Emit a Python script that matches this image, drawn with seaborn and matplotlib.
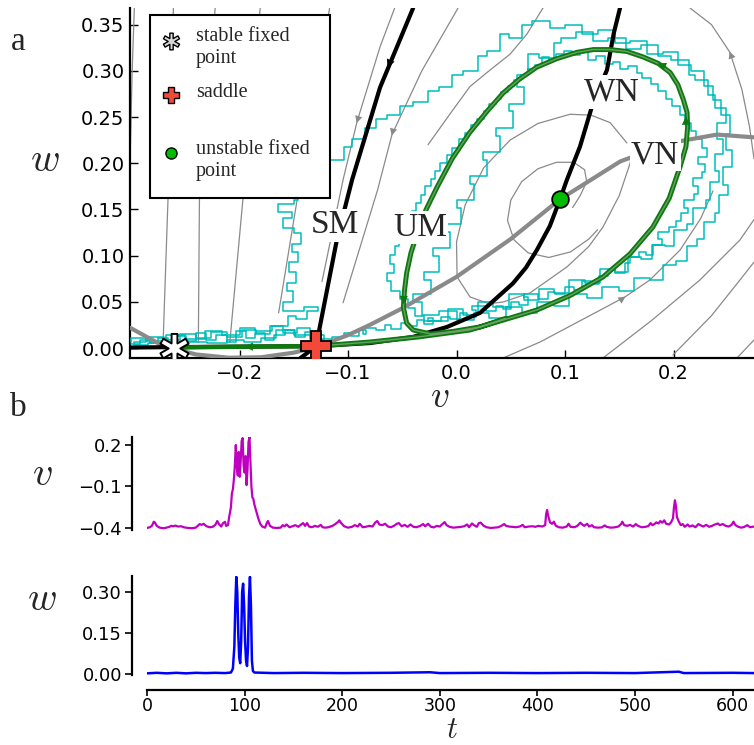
import numpy as np
import pandas as pd
import matplotlib
matplotlib.use("Agg")
import matplotlib.pyplot as plt
import seaborn as sns
from matplotlib.patches import Rectangle
from matplotlib.path import Path

# ---------------- data ----------------
# fixed points
stable_fp = (-0.260, 0.000)
saddle_pt = (-0.1295, 0.002)
unstable_fp = (0.0954, 0.161)

# v-nullcline (VN)
vn_v = [-0.301, -0.27, -0.24, -0.21, -0.18, -0.15, -0.1295, -0.10, -0.08, -0.05, 0.0, 0.05, 0.0954, 0.151, 0.197, 0.24, 0.2742]
vn_w = [0.022, 0.002, -0.007, -0.0105, -0.010, -0.005, 0.001, 0.014, 0.025, 0.043, 0.077, 0.118, 0.161, 0.202, 0.222, 0.231, 0.228]

# w-nullcline (WN)
wn_v = [-0.301, -0.26, -0.20, -0.1295, -0.0797, -0.040, -0.0088, 0.0216, 0.052, 0.064, 0.074, 0.086, 0.0954, 0.1017, 0.1138, 0.126, 0.1387, 0.145, 0.1507]
wn_w = [0.0005, 0.001, 0.0015, 0.002, 0.0054, 0.012, 0.0228, 0.038, 0.070, 0.087, 0.106, 0.132, 0.161, 0.182, 0.218, 0.266, 0.301, 0.341, 0.368]

# stable manifold (SM)
sm_v = [-0.144, -0.1295, -0.110, -0.0963, -0.0705, -0.040]
sm_w = [-0.011, 0.002, 0.119, 0.182, 0.282, 0.368]

# unstable manifold (UM): branch to the stable point and the large loop
um_left_v = [-0.1295, -0.19, -0.23, -0.260]
um_left_w = [0.002, 0.0015, 0.001, 0.0005]
um_loop_v = [-0.1295, -0.0797, -0.035, 0.0124, 0.0742, 0.105, 0.135, 0.160, 0.181, 0.196, 0.206, 0.2115, 0.213,
             0.2125, 0.209, 0.204, 0.197, 0.186, 0.172, 0.157, 0.141, 0.126, 0.111, 0.092, 0.074, 0.058, 0.043,
             0.028, 0.012, -0.004, -0.018, -0.028, -0.036, -0.042, -0.046, -0.048, -0.049, -0.046, -0.040,
             -0.024, -0.003, 0.0216, 0.045]
um_loop_w = [0.002, 0.0065, 0.012, 0.0195, 0.0412, 0.057, 0.0769, 0.102, 0.131, 0.162, 0.196, 0.218, 0.239,
             0.255, 0.269, 0.285, 0.298, 0.308, 0.315, 0.321, 0.323, 0.323, 0.320, 0.313, 0.304, 0.291, 0.276,
             0.256, 0.233, 0.205, 0.174, 0.150, 0.125, 0.103, 0.081, 0.062, 0.044, 0.027, 0.0195,
             0.0152, 0.018, 0.0228, 0.032]

# grey flow lines
flow_a_v = [-0.297, -0.299, -0.301]
flow_a_w = [0.368, 0.30, 0.20]
flow_b_v = [-0.261, -0.266, -0.2705, -0.266]
flow_b_w = [0.368, 0.160, 0.006, 0.002]
flow_c_v = [-0.2225, -0.237, -0.238]
flow_c_w = [0.368, 0.160, 0.006]
flow_d_v = [-0.181, -0.197, -0.209]
flow_d_w = [0.368, 0.160, 0.006]
flow_e_v = [-0.117, -0.147, -0.164]
flow_e_w = [0.368, 0.160, 0.038]
flow_f_v = [-0.0567, -0.0705, -0.0917, -0.1046, -0.124]
flow_f_w = [0.369, 0.326, 0.245, 0.182, 0.072]
flow_g_v = [0.0014, -0.032, -0.0595, -0.0728, -0.1046]
flow_g_w = [0.368, 0.300, 0.231, 0.171, 0.049]
flow_h_v = [-0.0263, -0.005, 0.0124, 0.030, 0.0493, 0.065, 0.0797]
flow_h_w = [0.220, 0.255, 0.283, 0.300, 0.318, 0.340, 0.368]
flow_i_v = [0.107, 0.114, 0.120, 0.118, 0.108, 0.092, 0.075, 0.060, 0.050, 0.047, 0.053, 0.066, 0.085, 0.105, 0.122, 0.130]
flow_i_w = [0.152, 0.165, 0.180, 0.193, 0.201, 0.201, 0.194, 0.180, 0.160, 0.138, 0.117, 0.103, 0.098, 0.104, 0.118, 0.128]
flow_j_v = [0.157, 0.1415, 0.124, 0.1046, 0.075, 0.0493, 0.025, 0.008, 0.000, 0.0005, 0.0124, 0.030, 0.0429,
            0.0677, 0.1018, 0.122, 0.135, 0.150, 0.160, 0.163]
flow_j_w = [0.222, 0.244, 0.252, 0.253, 0.243, 0.225, 0.195, 0.155, 0.115, 0.077, 0.0553, 0.048, 0.0498,
            0.0596, 0.0878, 0.110, 0.131, 0.165, 0.200, 0.225]
flow_k_v = [0.0429, 0.077, 0.1553, 0.1783, 0.2060, 0.2250, 0.2364]
flow_k_w = [-0.0108, 0.0065, 0.0553, 0.0737, 0.106, 0.140, 0.170]
flow_l_v = [0.2152, 0.235, 0.252, 0.2630, 0.2700, 0.2742]
flow_l_w = [0.368, 0.350, 0.320, 0.280, 0.240, 0.205]
flow_m_v = [0.135, 0.180, 0.2244, 0.2613, 0.2742]
flow_m_w = [-0.0108, 0.030, 0.0737, 0.117, 0.139]
flow_n_v = [0.1995, 0.235, 0.2613, 0.2742]
flow_n_w = [-0.0076, 0.035, 0.0737, 0.093]
flow_o_v = [0.2585, 0.2742]
flow_o_w = [-0.0108, 0.0087]

# arrow heads: position and direction along the curve
grey_arrow_v = [-0.0917, -0.0595, 0.1553, 0.252]
grey_arrow_w = [0.245, 0.231, 0.0553, 0.320]
grey_arrow_dv = [-0.0212, -0.013, 0.0233, -0.0157]
grey_arrow_dw = [-0.081, -0.060, 0.0184, 0.050]
green_arrow_v = [-0.195, -0.049, 0.2115, 0.186]
green_arrow_w = [0.0015, 0.048, 0.250, 0.308]
green_arrow_dv = [-0.02, -0.001, 0.0, -0.025]
green_arrow_dw = [0.0, -0.03, 0.03, 0.014]
sm_arrow = (-0.063, 0.305, 0.0305, 0.086)

# noisy trajectory (cyan)
cyan_band_v = [-0.300, -0.292, -0.283, -0.275, -0.266, -0.258, -0.249, -0.240, -0.231, -0.222, -0.212, -0.203,
               -0.194, -0.186, -0.177, -0.168, -0.158, -0.149, -0.140, -0.131, -0.122, -0.135, -0.147, -0.160,
               -0.172, -0.185, -0.198, -0.212, -0.226, -0.240, -0.255, -0.270, -0.286, -0.297, -0.284, -0.266,
               -0.248, -0.230, -0.212, -0.196, -0.180, -0.166, -0.150, -0.135, -0.115]
cyan_band_w = [0.004, 0.009, 0.005, 0.011, 0.006, 0.013, 0.008, 0.016, 0.009, 0.014, 0.007, 0.018,
               0.011, 0.016, 0.009, 0.014, 0.020, 0.012, 0.017, 0.009, 0.014, 0.022, 0.016, 0.024,
               0.015, 0.019, 0.012, 0.017, 0.011, 0.015, 0.009, 0.012, 0.007, 0.003, 0.005, 0.004,
               0.007, 0.005, 0.009, 0.006, 0.011, 0.020, 0.014, 0.010, 0.012]
cyan_loop1_v = [-0.104, -0.097, -0.090, -0.083, -0.086, -0.074, -0.066, -0.060, -0.051, -0.045,
                -0.036, -0.030, -0.022, -0.026, -0.014, -0.006, 0.003, 0.010, 0.018, 0.014,
                0.027, 0.036, 0.043, 0.050, 0.058, 0.066, 0.062, 0.075, 0.084, 0.091,
                0.100, 0.108, 0.116, 0.124, 0.131, 0.140, 0.146, 0.155, 0.160, 0.168,
                0.175, 0.181, 0.189, 0.186, 0.196, 0.202, 0.207, 0.213, 0.210, 0.219,
                0.223, 0.218, 0.226, 0.229, 0.223, 0.231, 0.226, 0.221, 0.216, 0.211,
                0.206, 0.199, 0.193, 0.186, 0.179, 0.171, 0.166, 0.158, 0.151, 0.144,
                0.137, 0.129, 0.121, 0.114, 0.106, 0.099, 0.092, 0.085, 0.079, 0.072,
                0.066, 0.059, 0.053, 0.047, 0.041, 0.036, 0.030, 0.025, 0.019, 0.013,
                0.008, 0.002, -0.004, -0.009, -0.015, -0.020, -0.024, -0.029, -0.033, -0.037,
                -0.041, -0.045, -0.049, -0.053, -0.057, -0.061, -0.058, -0.064, -0.060, -0.052,
                -0.045, -0.038, -0.030]
cyan_loop1_w = [0.016, 0.013, 0.019, 0.015, 0.022, 0.020, 0.025, 0.021, 0.027, 0.024,
                0.030, 0.026, 0.033, 0.029, 0.034, 0.031, 0.038, 0.034, 0.041, 0.046,
                0.040, 0.045, 0.042, 0.050, 0.047, 0.055, 0.059, 0.053, 0.061, 0.058,
                0.066, 0.063, 0.072, 0.069, 0.078, 0.084, 0.081, 0.092, 0.098, 0.104,
                0.101, 0.112, 0.118, 0.126, 0.131, 0.138, 0.146, 0.152, 0.160, 0.167,
                0.175, 0.184, 0.190, 0.199, 0.207, 0.216, 0.226, 0.235, 0.244, 0.252,
                0.262, 0.270, 0.278, 0.286, 0.292, 0.298, 0.305, 0.302, 0.310, 0.307,
                0.316, 0.312, 0.320, 0.317, 0.322, 0.318, 0.312, 0.315, 0.306, 0.302,
                0.295, 0.290, 0.284, 0.277, 0.270, 0.264, 0.256, 0.248, 0.241, 0.233,
                0.226, 0.217, 0.209, 0.200, 0.192, 0.183, 0.175, 0.166, 0.157, 0.148,
                0.139, 0.129, 0.120, 0.110, 0.101, 0.091, 0.081, 0.072, 0.062, 0.053,
                0.043, 0.035, 0.029]
cyan_loop2_v = [-0.008, 0.006, 0.020, 0.034, 0.048, 0.062, 0.076, 0.090, 0.104, 0.118, 0.132, 0.146, 0.158,
                0.170, 0.180, 0.192, 0.200, 0.212, 0.218, 0.230, 0.234, 0.242, 0.238, 0.246, 0.240, 0.248,
                0.238, 0.232, 0.220, 0.214, 0.198, 0.186, 0.170, 0.156, 0.140, 0.126, 0.110, 0.096, 0.090,
                0.076, 0.066, 0.056, 0.062, 0.048, 0.052, 0.036, 0.040, 0.024, 0.028, 0.012, 0.016, 0.000,
                0.004, -0.012, -0.006, -0.022, -0.016, -0.030, -0.024, -0.040, -0.032, -0.016]
cyan_loop2_w = [0.042, 0.036, 0.050, 0.044, 0.058, 0.052, 0.064, 0.060, 0.074, 0.070, 0.086, 0.082, 0.098,
                0.096, 0.112, 0.110, 0.128, 0.134, 0.152, 0.160, 0.180, 0.192, 0.210, 0.226, 0.244, 0.260,
                0.274, 0.290, 0.296, 0.312, 0.316, 0.328, 0.324, 0.336, 0.332, 0.342, 0.336, 0.330, 0.314,
                0.318, 0.296, 0.282, 0.264, 0.256, 0.238, 0.230, 0.212, 0.204, 0.186, 0.178, 0.160, 0.152,
                0.134, 0.126, 0.108, 0.100, 0.082, 0.074, 0.058, 0.050, 0.036, 0.040]
cyan_loop3_v = [0.000, 0.016, 0.030, 0.046, 0.060, 0.074, 0.090, 0.104, 0.120, 0.134, 0.150, 0.164, 0.178,
                0.190, 0.202, 0.212, 0.222, 0.228, 0.238, 0.242, 0.250, 0.246, 0.254, 0.248, 0.252, 0.244,
                0.236, 0.228, 0.216, 0.204, 0.190, 0.176, 0.160, 0.146, 0.130, 0.116, 0.100, 0.086, 0.070,
                0.060, 0.048, 0.040, 0.028, 0.020, 0.006, -0.004, -0.016, -0.026, -0.040, -0.052, -0.064,
                -0.074, -0.084, -0.096, -0.104, -0.118, -0.128, -0.140, -0.146]
cyan_loop3_w = [0.030, 0.038, 0.032, 0.044, 0.038, 0.050, 0.046, 0.058, 0.054, 0.066, 0.062, 0.076, 0.074,
                0.090, 0.094, 0.110, 0.118, 0.136, 0.146, 0.166, 0.176, 0.196, 0.214, 0.232, 0.252, 0.268,
                0.284, 0.300, 0.306, 0.320, 0.318, 0.332, 0.330, 0.344, 0.340, 0.350, 0.346, 0.354, 0.350,
                0.336, 0.340, 0.322, 0.316, 0.300, 0.296, 0.282, 0.278, 0.266, 0.262, 0.252, 0.248,
                0.238, 0.226, 0.218, 0.204, 0.196, 0.184, 0.174, 0.160]
cyan_column_v = [-0.150, -0.165, -0.152, -0.160, -0.150, -0.143, -0.152, -0.146, -0.154, -0.148, -0.156,
                 -0.151, -0.160, -0.141, -0.128, -0.138, -0.148, -0.155, -0.170, -0.186, -0.200, -0.216,
                 -0.232, -0.250, -0.268, -0.285, -0.300]
cyan_column_w = [0.156, 0.147, 0.141, 0.130, 0.124, 0.113, 0.104, 0.093, 0.082, 0.070, 0.062,
                 0.050, 0.040, 0.044, 0.040, 0.031, 0.035, 0.024, 0.018, 0.022, 0.014, 0.018,
                 0.010, 0.014, 0.008, 0.011, 0.006]

# time series
t_v = [0, 3, 5, 7, 8, 10, 13, 17, 20, 23, 25, 27, 29, 32, 35, 38, 42, 46, 50, 52, 54, 56, 58, 61, 64, 67, 70,
       72, 74, 76, 78, 80, 81, 83, 84, 86, 87, 88, 89, 90, 91, 92, 93, 94, 95, 96, 97, 98, 99, 100, 101,
       102, 103, 104, 105, 106, 107, 108, 109, 110, 112, 114, 116, 118, 121, 123, 124, 126, 129, 133, 137,
       139, 141, 143, 146, 149, 152, 155, 158, 160, 162, 164, 166, 169, 172, 175, 178, 180, 183, 186, 190,
       193, 196, 197, 199, 202, 206, 210, 213, 216, 218, 221, 224, 228, 231, 234, 236, 238, 241, 244, 247,
       250, 253, 256, 258, 261, 264, 267, 270, 273, 276, 280, 283, 285, 288, 291, 294, 297, 300, 303, 305,
       307, 310, 314, 318, 322, 325, 328, 330, 333, 335, 338, 340, 342, 345, 348, 352, 356, 360, 363, 366,
       368, 371, 374, 378, 382, 385, 387, 391, 395, 398, 401, 405, 408, 409, 410, 411, 413, 415, 417, 419,
       422, 426, 430, 432, 434, 438, 441, 444, 446, 448, 451, 453, 456, 458, 462, 466, 469, 471, 475, 479,
       483, 486, 487, 489, 492, 495, 498, 501, 503, 507, 511, 514, 516, 518, 520, 522, 524, 526, 528, 530,
       532, 535, 537, 539, 540, 541, 542, 543, 545, 547, 549, 551, 554, 556, 559, 562, 565, 567, 570, 573,
       576, 579, 582, 585, 587, 590, 593, 596, 599, 601, 603, 606, 609, 612, 615, 618, 622]
v_vals = [-0.400, -0.395, -0.385, -0.355, -0.360, -0.385, -0.398, -0.402, -0.398, -0.392, -0.385, -0.388,
          -0.383, -0.390, -0.388, -0.396, -0.400, -0.402, -0.398, -0.385, -0.372, -0.378, -0.370, -0.388,
          -0.395, -0.393, -0.378, -0.350, -0.375, -0.390, -0.365, -0.356, -0.385, -0.380, -0.330, -0.250,
          -0.150, -0.120, -0.050, 0.050, 0.200, 0.050, -0.020, 0.150, -0.030, 0.080, 0.230, 0.250, 0.050,
          0.000, 0.120, -0.090, 0.020, 0.220, 0.260, 0.080, -0.100, -0.180, -0.190, -0.230, -0.280, -0.330,
          -0.370, -0.390, -0.398, -0.360, -0.350, -0.385, -0.398, -0.400, -0.398, -0.380, -0.388, -0.375,
          -0.395, -0.388, -0.380, -0.392, -0.375, -0.365, -0.385, -0.365, -0.390, -0.395, -0.385, -0.392,
          -0.378, -0.395, -0.398, -0.395, -0.385, -0.372, -0.355, -0.345, -0.365, -0.388, -0.398, -0.392,
          -0.380, -0.390, -0.370, -0.395, -0.392, -0.385, -0.390, -0.360, -0.350, -0.375, -0.380, -0.370,
          -0.390, -0.395, -0.385, -0.370, -0.365, -0.388, -0.378, -0.392, -0.375, -0.392, -0.395, -0.385,
          -0.372, -0.388, -0.370, -0.392, -0.396, -0.385, -0.390, -0.370, -0.358, -0.380, -0.392, -0.398,
          -0.395, -0.392, -0.388, -0.375, -0.395, -0.368, -0.380, -0.392, -0.365, -0.362, -0.385, -0.395,
          -0.400, -0.398, -0.395, -0.385, -0.372, -0.385, -0.390, -0.392, -0.395, -0.390, -0.378, -0.395,
          -0.390, -0.388, -0.392, -0.385, -0.390, -0.380, -0.300, -0.270, -0.310, -0.360, -0.370, -0.355,
          -0.385, -0.395, -0.398, -0.390, -0.370, -0.392, -0.395, -0.385, -0.362, -0.375, -0.385, -0.370,
          -0.390, -0.380, -0.395, -0.398, -0.396, -0.382, -0.392, -0.398, -0.396, -0.390, -0.370, -0.355,
          -0.380, -0.385, -0.378, -0.390, -0.372, -0.385, -0.395, -0.392, -0.385, -0.365, -0.380, -0.372,
          -0.360, -0.368, -0.350, -0.362, -0.345, -0.370, -0.375, -0.360, -0.330, -0.250, -0.200, -0.240,
          -0.320, -0.355, -0.380, -0.372, -0.392, -0.375, -0.390, -0.382, -0.395, -0.372, -0.380, -0.390,
          -0.378, -0.392, -0.385, -0.375, -0.368, -0.380, -0.372, -0.385, -0.390, -0.378, -0.355, -0.380,
          -0.392, -0.398, -0.393, -0.380, -0.395, -0.390]
t_w = [0, 10, 20, 30, 40, 50, 60, 70, 80, 86, 88, 89.5, 90.5, 91.5, 92.5, 93.5, 94.5, 95.5, 96.5, 97.5,
       98.5, 99.5, 100.5, 101.5, 102.5, 103.5, 104.5, 105.5, 106.5, 107.5, 108.5, 110, 130, 160, 200, 250,
       290, 300, 350, 400, 450, 500, 545, 550, 600, 622]
w_vals = [0.003, 0.005, 0.003, 0.005, 0.003, 0.005, 0.004, 0.005, 0.004, 0.006, 0.020, 0.100, 0.250, 0.355,
          0.300, 0.150, 0.060, 0.040, 0.120, 0.300, 0.330, 0.250, 0.120, 0.050, 0.030, 0.100, 0.280, 0.355,
          0.250, 0.050, 0.012, 0.006, 0.004, 0.005, 0.004, 0.005, 0.007, 0.004, 0.005, 0.004, 0.005, 0.004,
          0.009, 0.004, 0.005, 0.004]

# ---------------- figure ----------------
sns.set_theme(style="ticks")
plt.rcParams["font.family"] = ["DejaVu Sans"]
plt.rcParams["mathtext.fontset"] = "cm"
SERIF = ["Liberation Serif", "DejaVu Serif"]

fig = plt.figure(figsize=(7.54, 7.45), dpi=100)
ax = fig.add_axes([130 / 754, 387 / 745, 624 / 754, 350 / 745])
axv = fig.add_axes([147 / 754, 215 / 745, 607 / 754, 93 / 745])
axw = fig.add_axes([147 / 754, 70 / 745, 607 / 754, 99 / 745])

GREY = "#8a8a8a"


def curve(a, xs, ys, **kw):
    sns.lineplot(x=xs, y=ys, ax=a, sort=False, estimator=None, legend=False, **kw)


def head(a, x, y, dx, dy, color, size, z):
    a.annotate("", xy=(x + dx * 0.02, y + dy * 0.02), xytext=(x, y),
               arrowprops=dict(arrowstyle="-|>", color=color, lw=0.0, mutation_scale=size,
                               shrinkA=0, shrinkB=0), zorder=z)


def asterisk_path(h=0.2):
    verts = []
    for k in range(6):
        th = np.deg2rad(90 + 60 * k)
        d = np.array([np.cos(th), np.sin(th)])
        p = np.array([-np.sin(th), np.cos(th)])
        verts.append(d - p * h)
        verts.append(d + p * h)
        ti = th + np.deg2rad(30)
        verts.append(2 * h * np.array([np.cos(ti), np.sin(ti)]))
    verts.append(verts[0])
    codes = [Path.MOVETO] + [Path.LINETO] * (len(verts) - 2) + [Path.CLOSEPOLY]
    return Path(verts, codes)


AST = asterisk_path(0.2)

# grey flow lines
flows = [(flow_a_v, flow_a_w), (flow_b_v, flow_b_w), (flow_c_v, flow_c_w), (flow_d_v, flow_d_w),
         (flow_e_v, flow_e_w), (flow_f_v, flow_f_w), (flow_g_v, flow_g_w), (flow_h_v, flow_h_w),
         (flow_i_v, flow_i_w), (flow_j_v, flow_j_w), (flow_k_v, flow_k_w), (flow_l_v, flow_l_w),
         (flow_m_v, flow_m_w), (flow_n_v, flow_n_w), (flow_o_v, flow_o_w)]
for fv, fw in flows:
    curve(ax, fv, fw, color=GREY, lw=0.9, zorder=1)
for i in range(len(grey_arrow_v)):
    head(ax, grey_arrow_v[i], grey_arrow_w[i], grey_arrow_dv[i], grey_arrow_dw[i], GREY, 13, 2)

# noisy trajectory
cyan_v = cyan_band_v + cyan_loop1_v + cyan_loop2_v + cyan_loop3_v + cyan_column_v
cyan_w = cyan_band_w + cyan_loop1_w + cyan_loop2_w + cyan_loop3_w + cyan_column_w
ax.plot(cyan_v, cyan_w, color="#00bdbd", lw=1.1, drawstyle="steps-post", zorder=3)

# nullclines and manifolds
curve(ax, vn_v, vn_w, color=GREY, lw=3.0, zorder=4)
curve(ax, wn_v, wn_w, color="black", lw=3.0, zorder=5)
curve(ax, sm_v, sm_w, color="black", lw=3.0, zorder=5)
head(ax, sm_arrow[0], sm_arrow[1], -sm_arrow[2], -sm_arrow[3], "black", 15, 6)
curve(ax, um_left_v, um_left_w, color="#0d7a0d", lw=3.2, zorder=6)
curve(ax, um_loop_v, um_loop_w, color="#0d7a0d", lw=3.6, zorder=6)
curve(ax, um_loop_v, um_loop_w, color="#6c9e6c", lw=1.0, zorder=6)
for i in range(len(green_arrow_v)):
    head(ax, green_arrow_v[i], green_arrow_w[i], green_arrow_dv[i], green_arrow_dw[i], "#0d7a0d", 15, 7)

# fixed points
ax.plot([stable_fp[0]], [stable_fp[1]], marker=AST, ms=21, mfc="white", mec="black", mew=1.4, zorder=9, ls="none")
ax.plot([saddle_pt[0]], [saddle_pt[1]], marker="P", ms=22, mfc="#f2493a", mec="black", mew=1.3, zorder=9, ls="none")
ax.plot([unstable_fp[0]], [unstable_fp[1]], marker="o", ms=12, mfc="#00bb00", mec="black", mew=1.3, zorder=9, ls="none")

# curve labels
box = dict(facecolor="white", edgecolor="none", pad=1.0)
for txt, xx, yy in [("SM", -0.112, 0.133), ("UM", -0.0336, 0.130), ("WN", 0.1433, 0.277), ("VN", 0.183, 0.209)]:
    ax.text(xx, yy, txt, fontsize=24, family=SERIF, ha="center", va="center", bbox=box, zorder=10)

# legend (drawn by hand so the markers line up with the first text line)
ax.add_patch(Rectangle((0.032, 0.457), 0.2885, 0.523, transform=ax.transAxes, facecolor="white",
                       edgecolor="black", lw=1.5, zorder=20))
ax.plot([0.0657], [0.906], transform=ax.transAxes, marker=AST, ms=12, mfc="#d8d8d8", mec="black", mew=1.0, zorder=22, ls="none")
ax.plot([0.0657], [0.751], transform=ax.transAxes, marker="P", ms=12, mfc="#f2493a", mec="black", mew=1.0, zorder=22, ls="none")
ax.plot([0.0657], [0.586], transform=ax.transAxes, marker="o", ms=8, mfc="#00bb00", mec="black", mew=1.0, zorder=22, ls="none")
for txt, yy in [("stable fixed\npoint", 0.945), ("saddle", 0.787), ("unstable fixed\npoint", 0.622)]:
    ax.text(0.1058, yy, txt, transform=ax.transAxes, fontsize=14.5, family=SERIF, ha="left", va="top",
            linespacing=1.22, zorder=23)

# top axes styling
ax.set_xlim(-0.301, 0.2742)
ax.set_ylim(-0.0108, 0.368)
ax.set_xticks([-0.2, -0.1, 0.0, 0.1, 0.2])
ax.set_xticklabels(["\u22120.2", "\u22120.1", "0.0", "0.1", "0.2"])
ax.set_yticks([0.0, 0.05, 0.10, 0.15, 0.20, 0.25, 0.30, 0.35])
ax.set_yticklabels(["0.00", "0.05", "0.10", "0.15", "0.20", "0.25", "0.30", "0.35"])
ax.tick_params(direction="in", length=6, width=1.0, labelsize=14, pad=4, colors="black")
for s in ["top", "right"]:
    ax.spines[s].set_visible(False)
for s in ["left", "bottom"]:
    ax.spines[s].set_linewidth(1.6)
    ax.spines[s].set_color("black")
ax.set_xlabel("$v$", fontsize=27, va="center")
ax.set_ylabel("$w$", fontsize=29, rotation=0, ha="center", va="center")
ax.xaxis.set_label_coords(0.497, -0.112)
ax.yaxis.set_label_coords(-0.136, 0.566)

# time series
curve(axv, t_v, v_vals, color="#c000c0", lw=1.6)
curve(axw, t_w, w_vals, color="#0000ff", lw=1.8)
for a in (axv, axw):
    a.set_xlim(0, 622)
    for s in ["top", "right"]:
        a.spines[s].set_visible(False)
    a.spines["left"].set_position(("outward", 11))
    a.spines["left"].set_linewidth(1.6)
    a.spines["left"].set_color("black")
    a.tick_params(direction="out", length=5, width=1.2, labelsize=13, colors="black", pad=2)
    a.set_xlabel("")
    a.set_ylabel("")
axw.tick_params(axis="x", pad=0.5, length=4, labelsize=12.5)
axv.spines["bottom"].set_visible(False)
axv.set_xticks([])
axv.set_ylim(-0.415, 0.258)
axv.set_yticks([0.2, -0.1, -0.4])
axv.set_yticklabels(["0.2", "\u22120.1", "\u22120.4"])
axw.set_ylim(-0.003, 0.358)
axw.set_yticks([0.0, 0.15, 0.30])
axw.set_yticklabels(["0.00", "0.15", "0.30"])
axw.spines["bottom"].set_position(("outward", 11))
axw.spines["bottom"].set_linewidth(1.6)
axw.spines["bottom"].set_color("black")
axw.set_xticks([0, 100, 200, 300, 400, 500, 600])
axv.set_ylabel("$v$", fontsize=29, rotation=0, ha="center", va="center")
axv.yaxis.set_label_coords(-0.173, 0.6)
axw.set_ylabel("$w$", fontsize=29, rotation=0, ha="center", va="center")
axw.yaxis.set_label_coords(-0.173, 0.77)
axw.set_xlabel("$t$", fontsize=22, va="baseline")
axw.xaxis.set_label_coords(0.502, -0.64)

fig.text(18 / 754, 1 - 42 / 745, "a", fontsize=24, family=SERIF, ha="center", va="center")
fig.text(18 / 754, 1 - 408 / 745, "b", fontsize=24, family=SERIF, ha="center", va="center")

fig.savefig("out.png", dpi=100)
